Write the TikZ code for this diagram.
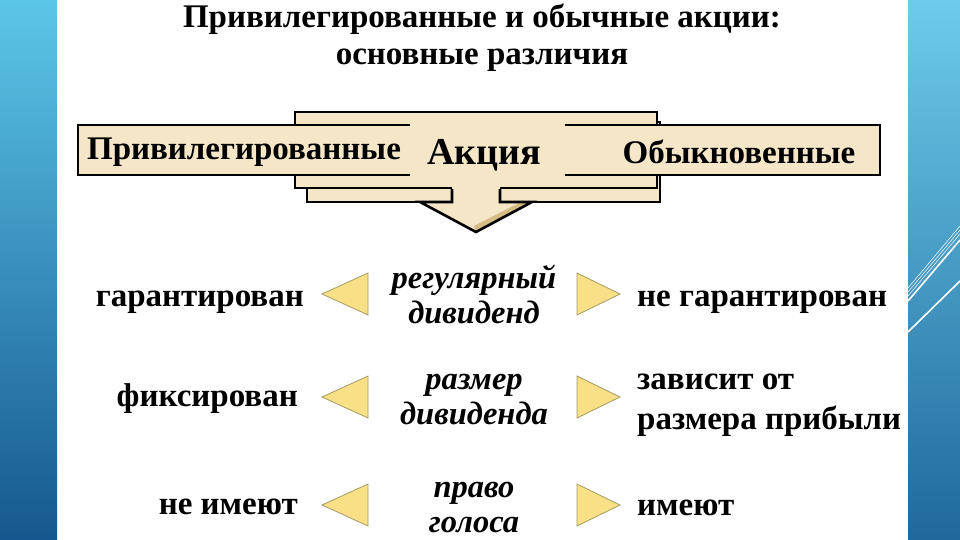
\documentclass[tikz,border=0pt]{standalone}
\usepackage{fontspec}
\setmainfont{Liberation Serif}
\usetikzlibrary{positioning}
\definecolor{slideTop}{HTML}{5CC6E8}
\definecolor{slideBot}{HTML}{15588F}
\definecolor{boxFill}{HTML}{F5E6C8}
\definecolor{boxSide}{HTML}{D5BB84}
\definecolor{triFill}{HTML}{F9DF86}
\definecolor{triLine}{HTML}{A49C62}

\begin{document}
\begin{tikzpicture}[
  x=1pt,y=-1pt,
  title/.style={font=\fontsize{33}{37}\selectfont\bfseries,align=center,inner sep=0pt},
  barlabel/.style={font=\fontsize{33}{35}\selectfont\bfseries,inner sep=0pt},
  crit/.style={font=\fontsize{32.5}{35}\selectfont\bfseries\itshape,align=center,inner sep=0pt},
  lside/.style={font=\fontsize{33}{35}\selectfont\bfseries,anchor=east,inner sep=0pt},
  rside/.style={font=\fontsize{33}{40}\selectfont\bfseries,anchor=west,align=left,inner sep=0pt},
  solid3d/.style={draw=black,line width=2.6pt,fill=boxFill},
  tri/.style={draw=triLine,line width=0.8pt,fill=triFill}
]
  \useasboundingbox (0,0) rectangle (960,540);
  \fill[white] (0,0) rectangle (960,540);

  % side bands of the slide
  \shade[top color=slideTop,bottom color=slideBot] (0,0) rectangle (57,540);
  \shade[top color=slideTop!90!white,bottom color=slideBot!85!slideTop] (908,0) rectangle (960,540);
  \draw[white,line width=0.5pt] (908,288) -- (960,226);
  \draw[white,line width=0.5pt] (908,292) -- (960,230);
  \draw[white,line width=0.5pt] (908,296) -- (960,234);
  \draw[white,line width=1.6pt] (908,301) -- (960,240);
  \draw[white,line width=1.6pt] (908,332) -- (960,281);

  \node[title] (title) at (482,38) {Привилегированные и обычные акции:\\основные различия};

  % central block with arrow
  \draw[solid3d] (307,122) rectangle (660,202);
  \draw[solid3d] (295,112) rectangle (657,188);
  \draw[solid3d] (78,125) rectangle (880,175);
  \fill[boxFill] (410,114) rectangle (565,186);
  \fill[boxFill] (452,180) -- (452,202) -- (420,202) -- (476,232) -- (532,202) -- (500,202) -- (500,180) -- cycle;
  \fill[boxSide] (476,232) -- (532,202) -- (521,202) -- (474,226) -- cycle;
  \draw[black,line width=2.6pt,line join=miter] (452,189) -- (452,202) -- (420,202) -- (476,232) -- (532,202) -- (500,202) -- (500,189);

  \node[barlabel] (pref) at (244,152) {Привилегированные};
  \node[barlabel,font=\fontsize{38}{40}\selectfont\bfseries] (share) at (484,155) {Акция};
  \node[barlabel] (ord) at (739,152) {Обыкновенные};

  % row 1
  \node[crit] (div) at (474,294) {регулярный\\дивиденд};
  \node[lside] (div-p) at (304,302) {гарантирован};
  \node[rside] (div-o) at (637,302) {не гарантирован};
  \draw[tri] (322,294) -- (368,273) -- (368,315) -- cycle;
  \draw[tri] (620,294) -- (577,273) -- (577,315) -- cycle;

  % row 2
  \node[crit] (size) at (474,400) {размер\\дивиденда};
  \node[lside] (size-p) at (298,399) {фиксирован};
  \node[rside] (size-o) at (637,405) {зависит от\\размера прибыли};
  \draw[tri] (322,397) -- (368,376) -- (368,418) -- cycle;
  \draw[tri] (620,397) -- (577,376) -- (577,418) -- cycle;

  % row 3
  \node[crit] (vote) at (474,508) {право\\голоса};
  \node[lside] (vote-p) at (298,507) {не имеют};
  \node[rside] (vote-o) at (637,508) {имеют};
  \draw[tri] (322,505) -- (368,484) -- (368,526) -- cycle;
  \draw[tri] (620,505) -- (577,484) -- (577,526) -- cycle;
\end{tikzpicture}
\end{document}
